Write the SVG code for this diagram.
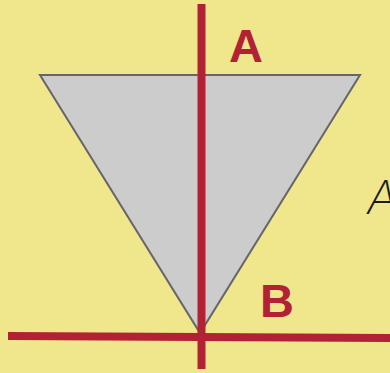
<svg xmlns="http://www.w3.org/2000/svg" width="390" height="373" viewBox="0 0 390 373">
<style>
.lbl{font-family:"Liberation Sans",Arial,sans-serif;font-weight:bold;font-size:47px;fill:#b22234}
.red{stroke:#b22234;stroke-width:8;fill:none}
</style>
<rect x="0" y="0" width="390" height="373" fill="#f0e68c"/>
<g id="triangle">
<polygon points="40,75 360,75 200,333" fill="#cccccc" stroke="#666666" stroke-width="2" stroke-linejoin="miter"/>
</g>
<g id="connectors">
<line class="red" x1="201.5" y1="4" x2="201.5" y2="369"/>
<line class="red" x1="8" y1="336" x2="390" y2="338"/>
</g>
<g id="labelA"><text class="lbl" x="229" y="62">A</text></g>
<g id="labelB"><text class="lbl" x="260" y="317">B</text></g>
<g id="labelA2"><text x="367" y="214" font-family="Inter,'Liberation Sans',sans-serif" font-style="italic" font-size="47" font-weight="200" fill="#1a1a1a">A</text></g>
</svg>
